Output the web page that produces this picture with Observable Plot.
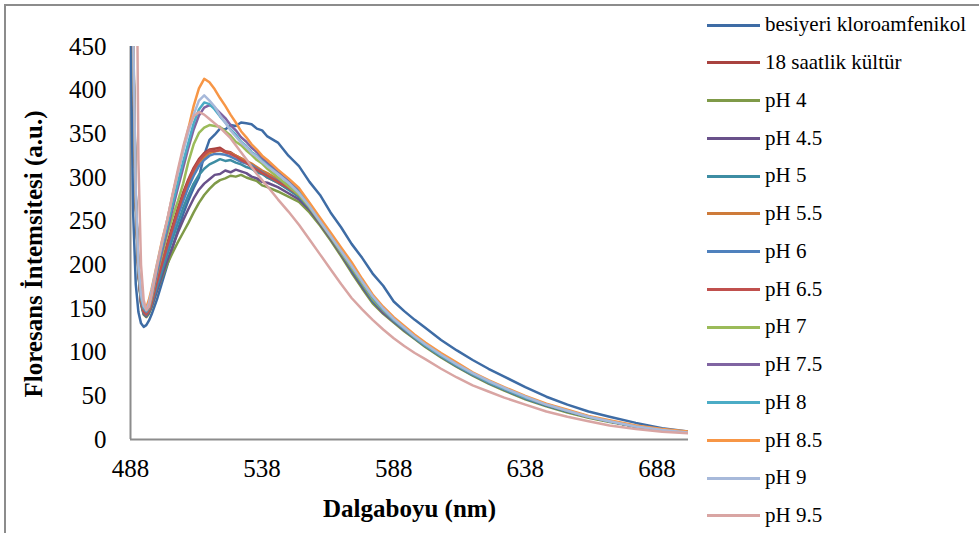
<!DOCTYPE html>
<html><head><meta charset="utf-8">
<script src="https://cdn.jsdelivr.net/npm/d3@7"></script>
<script src="https://cdn.jsdelivr.net/npm/@observablehq/plot@0.6"></script>
<style>
html,body{margin:0;padding:0;background:#fff;}
#wrap{position:relative;width:979px;height:533px;overflow:hidden;font-family:"Liberation Serif","Times New Roman",serif;}
#frame{position:absolute;left:4px;top:4px;width:1200px;height:1200px;border-left:2px solid #8c8c8c;border-top:2px solid #8c8c8c;}
#chart{position:absolute;left:0;top:0;}
#chart svg text{font-family:"Liberation Serif","Times New Roman",serif;}
.sw{position:absolute;height:3px;}
.lt{position:absolute;font-size:21px;line-height:21px;white-space:nowrap;color:#000;}
g[aria-label="x-axis label"] text{font-weight:bold;font-size:25px;}
</style></head>
<body><div id="wrap"><div id="frame"></div><div id="chart"></div><div id="legend"></div></div>
<script>
const wavelengths = [488,489,490,491,492,493,494,495,496,
 498,500,502,504,506,508,510,512,514,516,518,520,522,524,526,528,530,532,534,536,538,540,
 544,548,552,556,560,564,568,572,576,580,584,588,592,596,600,
 606,612,618,624,630, 638,646,654,662,670, 680,690,700];

const seriesNames = ["besiyeri kloroamfenikol","18 saatlik kültür","pH 4","pH 4.5","pH 5","pH 5.5","pH 6","pH 6.5","pH 7","pH 7.5","pH 8","pH 8.5","pH 9","pH 9.5"];
const seriesColors = ["#3E6CA5","#A9423F","#7F9A48","#69518A","#3D8DA3","#CE7B3A","#4F81BD","#C0504D","#9BBB59","#8064A2","#4BACC6","#F79646","#A7B9DA","#D9A5A3"];
const xTitle = "Dalgaboyu (nm)";
const yTitle = "Floresans İntemsitesi (a.u.)";

const besiyeri = [480,260,178,146,133,129,131,136,143,
 160,180,200,220,240,258,274,288,300,326,343,349,356,355,360,359,363,362,361,356,354,347,
 340,325,313,295,280,260,243,224,208,190,176,158,147,137,128,
 114,102,91,81,72, 60,49,40,32,26, 19,13,9];
const saat18 = [900,450,275,193,158,146,143,147,157,
 181,203,225,245,265,283,298,311,321,328,332,333,334,330,329,325,322,317,314,308,306,300,
 294,287,278,265,249,232,214,196,178,160,147,136,126,116,107,
 95,84,74,65,57, 47,39,32,26,21, 15,11,8];
const pH4 = [900,440,270,190,155,143,140,144,151,
 170,186,201,214,226,237,248,260,271,280,287,293,297,299,302,301,303,300,298,296,291,289,
 284,278,272,260,245,228,210,191,173,156,144,134,124,115,106,
 94,83,73,64,56, 46,38,31,25,20, 15,11,8];
const pH45 = [900,445,272,191,156,144,141,145,152,
 170,188,205,221,237,251,264,276,286,293,298,303,304,308,306,309,307,305,301,299,295,294,
 289,282,275,263,247,230,212,193,175,158,145,135,125,116,107,
 95,84,74,65,57, 47,39,32,26,21, 15,11,8];
const pH5 = [900,450,274,192,157,145,142,146,154,
 174,193,212,230,248,265,280,293,303,310,315,318,321,319,320,317,315,312,310,306,304,300,
 294,286,278,265,249,232,214,195,177,159,147,136,126,116,107,
 95,84,74,65,57, 47,39,32,26,21, 15,11,8];
const pH55 = [900,455,276,194,159,147,144,148,157,
 180,200,220,240,259,277,293,306,316,323,328,330,331,329,328,325,322,319,316,312,308,305,
 298,291,283,269,252,235,217,199,181,162,148,137,127,117,108,
 96,85,75,66,58, 48,40,33,26,21, 15,11,8];
const pH6 = [900,455,276,194,159,147,144,148,156,
 178,198,218,237,256,273,289,302,313,320,325,327,327,326,324,321,318,316,314,310,306,302,
 296,289,281,267,251,234,216,198,180,161,148,137,127,117,108,
 96,85,75,66,58, 48,40,33,26,21, 15,11,8];
const pH65 = [900,450,275,193,158,146,143,147,156,
 180,201,222,242,262,280,296,309,319,326,331,330,332,329,327,324,320,317,312,309,305,302,
 295,288,280,266,250,233,215,197,179,161,148,137,127,117,108,
 96,85,75,66,58, 48,40,33,26,21, 15,11,8];
const pH7 = [900,455,278,196,162,150,146,150,161,
 189,212,235,255,273,293,318,338,351,357,360,359,358,353,348,341,337,331,326,320,316,310,
 300,290,280,266,249,232,214,197,179,161,148,137,127,117,108,
 96,85,75,66,58, 48,40,33,26,21, 15,11,8];
const pH75 = [900,460,280,198,163,150,146,151,163,
 190,216,240,264,288,311,334,355,371,380,383,380,374,368,360,354,346,341,334,329,322,317,
 306,296,285,270,252,234,216,199,181,163,149,137,127,117,108,
 96,85,75,66,58, 48,40,33,26,21, 15,11,8];
const pH8 = [900,460,280,198,164,151,147,153,166,
 194,221,245,270,294,318,340,362,378,386,384,378,370,363,355,349,341,336,329,325,319,314,
 304,294,283,268,251,234,216,199,181,163,149,137,127,117,108,
 96,85,75,66,58, 48,40,33,26,21, 15,11,8];
const pH85 = [900,470,280,200,168,155,151,160,172,
 200,228,252,280,306,332,356,382,402,413,409,401,391,382,372,363,353,346,338,332,325,320,
 309,299,288,271,254,237,220,203,184,166,152,140,130,120,111,
 99,88,77,68,60, 50,41,34,27,22, 16,12,9];
const pH9 = [900,470,285,200,166,153,149,156,170,
 199,226,252,280,305,330,352,372,388,394,388,381,371,363,354,347,340,335,328,324,318,313,
 304,294,282,267,250,233,216,199,181,164,150,138,128,118,109,
 97,86,76,67,59, 49,40,33,26,21, 15,11,8];
const pH95 = [1200,1000,700,320,200,160,148,152,165,
 197,226,252,281,309,335,357,370,375,372,367,362,357,351,345,337,329,321,312,304,297,290,
 275,261,246,229,212,195,178,162,149,137,126,116,107,99,92,
 81,71,62,55,48, 40,32,26,21,16, 12,9,7];

const seriesValues = [besiyeri,saat18,pH4,pH45,pH5,pH55,pH6,pH65,pH7,pH75,pH8,pH85,pH9,pH95];
const xTicks = [488,538,588,638,688];
const yTicks = [0,50,100,150,200,250,300,350,400,450];

const data = [];
seriesNames.forEach((name, i) => {
  seriesValues[i].forEach((v, j) => data.push({series: name, x: wavelengths[j], y: v}));
});

const chart = Plot.plot({
  width: 700, height: 533,
  marginLeft: 130, marginRight: 12, marginTop: 46, marginBottom: 94,
  style: {fontFamily: '"Liberation Serif","Times New Roman",serif', color: "#000", background: "transparent"},
  x: {domain: [488, 700]},
  y: {domain: [0, 450]},
  color: {domain: seriesNames, range: seriesColors},
  marks: [
    Plot.axisX({ticks: xTicks, tickSize: 0, tickPadding: 20, fontSize: 25, tickFormat: d => String(d),
      label: xTitle, labelAnchor: "center", labelArrow: "none", labelOffset: 77}),
    Plot.axisY({ticks: yTicks, tickSize: 0, tickPadding: 24, fontSize: 25, label: null}),
    Plot.text([yTitle], {frameAnchor: "left", text: d => d, rotate: -90, dx: -97, dy: 11,
      fontSize: 25, fontWeight: "bold", textAnchor: "middle", lineAnchor: "middle", fill: "#000"}),
    Plot.ruleX([488], {stroke: "#8c8c8c", strokeWidth: 2}),
    Plot.ruleY([0], {stroke: "#8c8c8c", strokeWidth: 2}),
    Plot.line(data, {x: "x", y: "y", z: "series", stroke: "series", strokeWidth: 2.5, strokeLinejoin: "round", clip: true})
  ]
});
document.getElementById("chart").appendChild(chart);

const legend = document.getElementById("legend");
seriesNames.forEach((name, i) => {
  const cy = 25 + 37.75 * i;
  const sw = document.createElement("div");
  sw.className = "sw";
  sw.style.left = "707px"; sw.style.width = "53px";
  sw.style.top = (cy - 1.5) + "px";
  sw.style.background = seriesColors[i];
  legend.appendChild(sw);
  const t = document.createElement("div");
  t.className = "lt";
  t.style.left = "765px";
  t.style.top = (cy - 10.6) + "px";
  t.textContent = name;
  legend.appendChild(t);
});
</script></body></html>
